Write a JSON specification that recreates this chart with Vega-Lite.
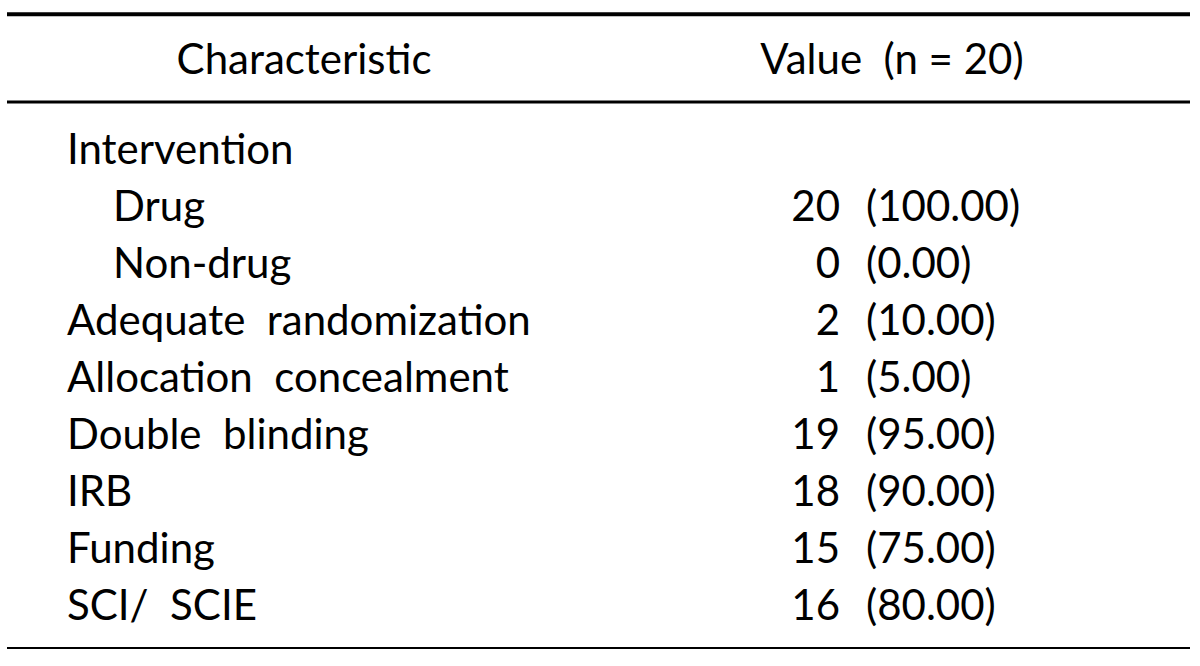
{
  "$schema": "https://vega.github.io/schema/vega-lite/v6.json",
  "width": 1200,
  "height": 666,
  "autosize": {"type": "fit", "contains": "padding"},
  "padding": {"left": 5, "right": 8, "top": 0, "bottom": 0},
  "background": "white",
  "config": {
    "view": {"stroke": null},
    "text": {"font": "Lato", "fontSize": 42, "color": "black", "baseline": "middle"}
  },
  "datasets": {
    "header": [
      {"row": 0, "col": "Characteristic"},
      {"row": 0, "col": "Value\u00a0 (n = 20)"}
    ],
    "rows": [
      {"row": 1, "label": "Intervention", "level": 0, "n": null, "pct": null},
      {"row": 2, "label": "Drug", "level": 1, "n": "20", "pct": "(100.00)"},
      {"row": 3, "label": "Non-drug", "level": 1, "n": "0", "pct": "(0.00)"},
      {"row": 4, "label": "Adequate\u00a0 randomization", "level": 0, "n": "2", "pct": "(10.00)"},
      {"row": 5, "label": "Allocation\u00a0 concealment", "level": 0, "n": "1", "pct": "(5.00)"},
      {"row": 6, "label": "Double\u00a0 blinding", "level": 0, "n": "19", "pct": "(95.00)"},
      {"row": 7, "label": "IRB", "level": 0, "n": "18", "pct": "(90.00)"},
      {"row": 8, "label": "Funding", "level": 0, "n": "15", "pct": "(75.00)"},
      {"row": 9, "label": "SCI/\u00a0 SCIE", "level": 0, "n": "16", "pct": "(80.00)"}
    ],
    "lines": [
      {"line": "top", "pos": -0.52},
      {"line": "header", "pos": 0.456},
      {"line": "bottom", "pos": 9.72}
    ]
  },
  "layer": [
    {
      "data": {"name": "lines"},
      "mark": {"type": "rule", "color": "black"},
      "encoding": {
        "y": {"field": "pos", "type": "quantitative", "axis": null,
              "scale": {"domain": [0, 1, 9], "range": [61, 151, 607], "zero": false, "nice": false}},
        "strokeWidth": {"field": "line", "type": "nominal", "legend": null,
              "scale": {"domain": ["top", "header", "bottom"], "range": [4, 2, 3]}}
      }
    },
    {
      "data": {"name": "header"},
      "mark": {"type": "text", "align": "center"},
      "encoding": {
        "x": {"field": "col", "type": "nominal", "axis": null,
              "scale": {"type": "point", "domain": ["Characteristic", "Value\u00a0 (n = 20)"], "range": [297, 885], "padding": 0}},
        "y": {"field": "row", "type": "quantitative", "axis": null,
              "scale": {"domain": [0, 1, 9], "range": [61, 151, 607], "zero": false, "nice": false}},
        "text": {"field": "col", "type": "nominal"}
      }
    },
    {
      "data": {"name": "rows"},
      "mark": {"type": "text", "align": "left"},
      "encoding": {
        "x": {"field": "level", "type": "quantitative", "axis": null,
              "scale": {"domain": [0, 1], "range": [60, 106], "zero": false, "nice": false}},
        "y": {"field": "row", "type": "quantitative", "axis": null,
              "scale": {"domain": [0, 1, 9], "range": [61, 151, 607], "zero": false, "nice": false}},
        "text": {"field": "label", "type": "nominal"}
      }
    },
    {
      "data": {"name": "rows"},
      "transform": [{"filter": "datum.n != null"}],
      "mark": {"type": "text", "align": "right", "dx": -52},
      "encoding": {
        "x": {"datum": "Value\u00a0 (n = 20)", "type": "nominal", "axis": null,
              "scale": {"type": "point", "domain": ["Characteristic", "Value\u00a0 (n = 20)"], "range": [297, 885], "padding": 0}},
        "y": {"field": "row", "type": "quantitative", "axis": null,
              "scale": {"domain": [0, 1, 9], "range": [61, 151, 607], "zero": false, "nice": false}},
        "text": {"field": "n", "type": "nominal"}
      }
    },
    {
      "data": {"name": "rows"},
      "transform": [{"filter": "datum.pct != null"}],
      "mark": {"type": "text", "align": "left", "dx": -26},
      "encoding": {
        "x": {"datum": "Value\u00a0 (n = 20)", "type": "nominal", "axis": null,
              "scale": {"type": "point", "domain": ["Characteristic", "Value\u00a0 (n = 20)"], "range": [297, 885], "padding": 0}},
        "y": {"field": "row", "type": "quantitative", "axis": null,
              "scale": {"domain": [0, 1, 9], "range": [61, 151, 607], "zero": false, "nice": false}},
        "text": {"field": "pct", "type": "nominal"}
      }
    }
  ],
  "resolve": {"scale": {"x": "independent"}}
}
